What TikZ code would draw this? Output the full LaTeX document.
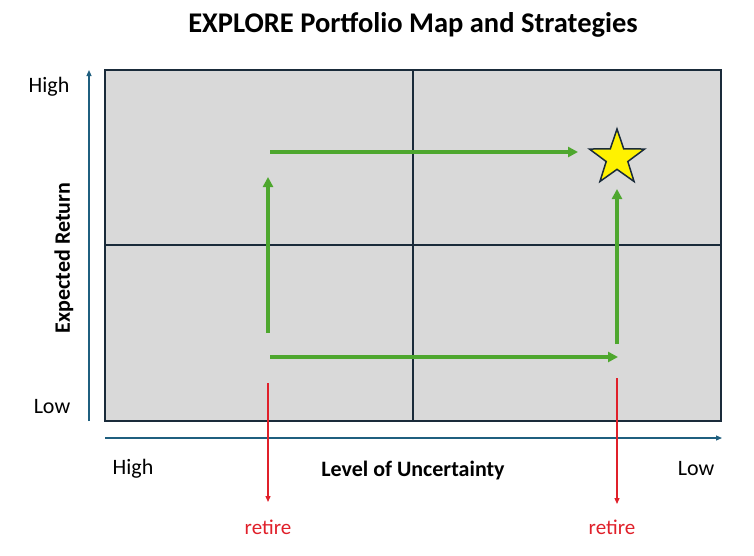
\documentclass[tikz,border=0pt]{standalone}
\usepackage{fontspec}
\setmainfont{Carlito}
\usetikzlibrary{arrows.meta,shapes.geometric}
\definecolor{axisblue}{HTML}{1F5F7F}
\definecolor{gridfill}{HTML}{D9D9D9}
\definecolor{gridline}{HTML}{1A2B3A}
\definecolor{greenarr}{HTML}{4EA72E}
\definecolor{redarr}{HTML}{E0202A}
\tikzset{
  axis/.style={draw=axisblue, line width=1.2pt, -{Triangle[length=6pt,width=5pt]}},
  garrow/.style={draw=greenarr, line width=3.2pt, -{Triangle[length=10pt,width=10pt]}},
  rarrow/.style={draw=redarr, line width=1.3pt, -{Triangle[length=6pt,width=5pt]}},
  lbl/.style={font=\fontsize{22}{26}\selectfont, text=black, inner sep=0pt},
  blbl/.style={font=\fontsize{22}{26}\selectfont\bfseries, text=black, inner sep=0pt},
  rlbl/.style={font=\fontsize{21}{25}\selectfont, text=redarr, inner sep=0pt},
  pt/.style={coordinate}
}
\begin{document}
\begin{tikzpicture}[x=1pt,y=-1pt]
\useasboundingbox (0,0) rectangle (754,555);
% grid
\node[pt] (tl) at (105,70) {};
\node[pt] (br) at (721,421) {};
\fill[gridfill] (tl) rectangle (br);
\draw[gridline, line width=1.2pt] (tl) rectangle (br);
\node[pt] (vt) at (413,70) {};
\node[pt] (vb) at (413,421) {};
\node[pt] (hl) at (105,245) {};
\node[pt] (hr) at (721,245) {};
\draw[gridline, line width=1.2pt] (vt) -- (vb);
\draw[gridline, line width=1.2pt] (hl) -- (hr);
% axes
\node[pt] (ya) at (89,421) {};
\node[pt] (yb) at (89,70) {};
\node[pt] (xa) at (105,438) {};
\node[pt] (xb) at (722,438) {};
\draw[axis] (ya) -- (yb);
\draw[axis] (xa) -- (xb);
% green arrows
\node[pt] (g1a) at (270,152) {};
\node[pt] (g1b) at (578,152) {};
\node[pt] (g2a) at (268,333) {};
\node[pt] (g2b) at (268,177) {};
\node[pt] (g3a) at (270,357) {};
\node[pt] (g3b) at (618,357) {};
\node[pt] (g4a) at (617,344) {};
\node[pt] (g4b) at (617,189) {};
\draw[garrow] (g1a) -- (g1b);
\draw[garrow] (g2a) -- (g2b);
\draw[garrow] (g3a) -- (g3b);
\draw[garrow] (g4a) -- (g4b);
% star
\node[star, star points=5, star point ratio=2.55, minimum size=58pt, inner sep=0pt,
  fill=yellow, draw=gridline, line width=1.5pt] (star) at (617,158) {};
% red arrows
\node[pt] (r1a) at (268,383) {};
\node[pt] (r1b) at (268,502) {};
\node[pt] (r2a) at (617,378) {};
\node[pt] (r2b) at (617,504) {};
\draw[rarrow] (r1a) -- (r1b);
\draw[rarrow] (r2a) -- (r2b);
\node[rlbl] (ret1) at (268,527) {retire};
\node[rlbl] (ret2) at (612,527) {retire};
% labels
\node[font=\fontsize{28.5}{32}\selectfont\bfseries, inner sep=0pt] (title) at (413,25) {EXPLORE Portfolio Map and Strategies};
\node[lbl] (yhigh) at (49,87) {High};
\node[lbl] (ylow) at (52,407) {Low};
\node[blbl, rotate=90] (ylab) at (64,258) {Expected Return};
\node[lbl] (xhigh) at (133,469) {High};
\node[lbl] (xlow) at (696,469) {Low};
\node[blbl] (xlab) at (413,470) {Level of Uncertainty};
\end{tikzpicture}
\end{document}
